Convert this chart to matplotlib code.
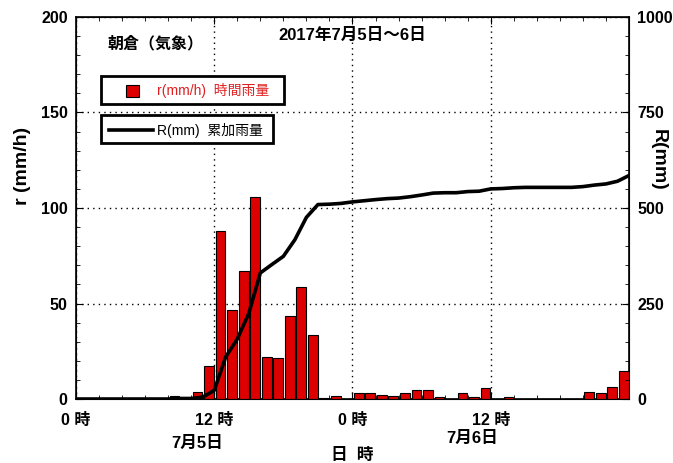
import numpy as np
import matplotlib.pyplot as plt
from matplotlib.ticker import MultipleLocator

plt.rcParams['font.family'] = ['Liberation Sans', 'Noto Sans CJK JP']

# hourly rain r(mm/h), hour h covers h..h+1 (0-47 over 7/5-7/6)
hours = np.arange(48)
rain = [0, 0, 0, 0, 0, 0, 0, 0, 1.4, 0,
        3.7, 17.3, 88, 46.5, 67, 106, 22, 21.5, 43.5, 58.5,
        33.3, 0.5, 1.5, 0, 3.3, 3.3, 2.3, 1.5, 3.3, 4.7,
        4.7, 0.8, 0, 3.2, 1.1, 5.8, 0, 1.2, 0, 0,
        0, 0, 0, 0, 3.7, 3.2, 6.3, 14.8]

# cumulative R(mm) at each hour end
hours_R = np.arange(49)
cum = [0, 0, 0, 0, 0, 0, 0, 0, 0, 1.4,
       1.4, 5, 22.5, 110.5, 157, 224, 330, 352, 373.5, 417,
       475.5, 509, 510, 512, 516, 519, 522, 524.5, 526, 529.5,
       534, 539, 540, 540, 543, 544, 550, 551, 553, 554,
       554, 554, 554, 554, 556, 560, 563, 570, 585]

xticks = [0, 12, 24, 36]
xticklabels = ['0 時', '12 時', '0 時', '12 時']

fig = plt.figure(figsize=(6.73, 4.63), dpi=100)
ax = fig.add_axes([0.1129, 0.1382, 0.8217, 0.8251])

ax.bar(hours + 0.55, rain, width=0.85, color='#dd0000', edgecolor='black', linewidth=0.8, zorder=3)
ax.set_xlim(0, 48)
ax.set_ylim(0, 200)
ax.set_xticks(xticks)
ax.set_xticklabels(xticklabels, fontweight='bold', fontsize=11.5)
ax.set_yticks([0, 50, 100, 150, 200])
ax.set_yticklabels(['0', '50', '100', '150', '200'], fontweight='bold', fontsize=11.5)
ax.xaxis.set_minor_locator(MultipleLocator(2))
ax.yaxis.set_minor_locator(MultipleLocator(10))
ax.tick_params(which='both', direction='in', top=True, right=False)
ax.tick_params(which='major', length=5, pad=6)
ax.tick_params(axis='x', which='major', pad=10)
ax.tick_params(which='minor', length=3)
ax.grid(True, which='major', linestyle=(0, (1, 3)), color='black', linewidth=1)
for s in ax.spines.values():
    s.set_linewidth(1.2)

ax2 = ax.twinx()
ax2.plot(hours_R, cum, color='black', linewidth=2.6, zorder=4)
ax2.set_ylim(0, 1000)
ax2.set_yticks([0, 250, 500, 750, 1000])
ax2.set_yticklabels(['0', '250', '500', '750', '1000'], fontweight='bold', fontsize=11.5)
ax2.yaxis.set_minor_locator(MultipleLocator(50))
ax2.tick_params(which='both', direction='in')
ax2.tick_params(which='major', length=5, pad=6)
ax2.tick_params(which='minor', length=3)

# axis titles (placed as in the original, above centre)
fig.text(23 / 673, 1 - 166 / 463, 'r (mm/h)', fontsize=14, fontweight='bold', rotation=90, ha='center', va='center')
fig.text(658 / 673, 1 - 160 / 463, 'R(mm)', fontsize=14, fontweight='bold', rotation=270, ha='center', va='center')

# titles
ax.text(0.143, 0.93, '朝倉（気象）', transform=ax.transAxes, fontsize=11.5, fontweight='bold', ha='center', va='center')
ax.text(0.50, 0.953, '2017年7月5日～6日', transform=ax.transAxes, fontsize=12, fontweight='bold', ha='center', va='center')

# date labels under axis
fig.text(197 / 673, 1 - 443 / 463, '7月5日', fontsize=12, fontweight='bold', ha='center', va='center')
fig.text(472 / 673, 1 - 438 / 463, '7月6日', fontsize=12, fontweight='bold', ha='center', va='center')
fig.text(352 / 673, 1 - 455 / 463, '日  時', fontsize=12, fontweight='bold', ha='center', va='center')

# legend boxes
box1 = plt.Rectangle((100.7 / 673, 1 - 104 / 463), 183.3 / 673, 28 / 463, transform=fig.transFigure,
                     facecolor='white', edgecolor='black', linewidth=2, zorder=5)
box2 = plt.Rectangle((100.7 / 673, 1 - 143 / 463), 172.3 / 673, 28 / 463, transform=fig.transFigure,
                     facecolor='white', edgecolor='black', linewidth=2, zorder=5)
fig.patches.extend([box1, box2])
sq = plt.Rectangle((126 / 673, 1 - 97 / 463), 13 / 673, 12 / 463, transform=fig.transFigure,
                   facecolor='#dd0000', edgecolor='black', linewidth=0.8, zorder=6)
fig.patches.append(sq)
fig.add_artist(plt.Line2D([109 / 673, 153 / 673], [1 - 130 / 463, 1 - 130 / 463], transform=fig.transFigure,
                          color='black', linewidth=2.6, zorder=6))
fig.text(157 / 673, 1 - 90 / 463, 'r(mm/h)  時間雨量', fontsize=10, color='#e02020', ha='left', va='center', zorder=7)
fig.text(157 / 673, 1 - 130 / 463, 'R(mm)  累加雨量', fontsize=10, color='black', ha='left', va='center', zorder=7)

fig.savefig('out.png', dpi=100)
